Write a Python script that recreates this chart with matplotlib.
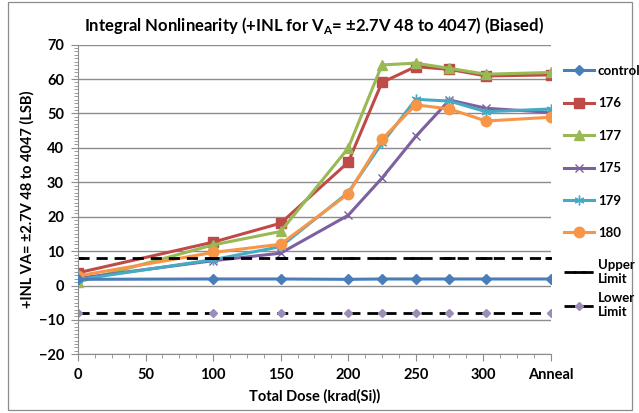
import numpy as np
import matplotlib.pyplot as plt
from matplotlib.patches import Rectangle
from matplotlib.ticker import MultipleLocator

plt.rcParams['font.family'] = ['Lato', 'DejaVu Sans']

# total dose, krad(Si); last point is the anneal
dose = [0, 100, 150, 200, 225, 250, 275, 302, 350]
x_ticks = [0, 50, 100, 150, 200, 250, 300, 350]
x_labels = ['0', '50', '100', '150', '200', '250', '300', 'Anneal']

control = [1.8, 1.9, 1.9, 1.8, 1.9, 1.9, 1.9, 1.9, 1.9]
s176 = [3.7, 12.6, 18.1, 35.8, 59.0, 63.6, 62.8, 60.9, 61.2]
s177 = [1.0, 11.8, 15.7, 39.9, 64.1, 64.6, 63.1, 61.4, 61.9]
s175 = [2.1, 7.2, 9.4, 20.4, 31.2, 43.3, 53.9, 51.5, 50.3]
s179 = [1.7, 7.5, 11.3, 27.0, 41.3, 54.1, 53.6, 50.5, 51.3]
s180 = [2.8, 9.6, 12.0, 26.6, 42.5, 52.5, 51.3, 47.8, 48.9]
upper = [8] * len(dose)
lower = [-8] * len(dose)

fig = plt.figure(figsize=(6.39, 4.13), dpi=100)
ax = fig.add_axes([0.122, 0.142, 0.74, 0.75])

# chart border
fig.patches.append(Rectangle((8/639, 3/413), 624/639, 408/413, transform=fig.transFigure,
                             fill=False, edgecolor='#8c8c8c', linewidth=0.9))

lw = 2.2
series = []
series += ax.plot(dose, control, color='#4A7EBB', marker='D', ms=5, lw=lw, label='control', zorder=5)
series += ax.plot(dose, s176, color='#BE4B48', marker='s', ms=7, lw=lw, label='176')
series += ax.plot(dose, s177, color='#98B954', marker='^', ms=7, lw=lw, label='177')
series += ax.plot(dose, s175, color='#7D60A0', marker='x', ms=6, mew=1, lw=lw, label='175')
series += ax.plot(dose, s179, color='#46AAC5', marker=(6, 2, 0), ms=7, mew=1, lw=lw, label='179')
series += ax.plot(dose, s180, color='#F79646', marker='o', ms=7.5, lw=lw, label='180')
limits = []
limits += ax.plot(dose, upper, color='black', ls=(0, (4, 2.5)), lw=2, marker='_', ms=8, mew=2,
                  label='Upper\nLimit')
limits += ax.plot(dose, lower, color='black', ls=(0, (4, 2.5)), lw=2, marker='D', ms=4.5,
                  mfc='#9B8DB8', mec='#9B8DB8', label='Lower\nLimit')

ax.set_xlim(0, 350)
ax.set_ylim(-20, 70)
ax.set_xticks(x_ticks)
ax.set_xticklabels(x_labels)
ax.xaxis.set_minor_locator(MultipleLocator(12.5))
ax.yaxis.set_major_locator(MultipleLocator(10))
ax.yaxis.set_minor_locator(MultipleLocator(1))
ax.grid(axis='y', which='major', color='#8c8c8c', lw=1)
ax.set_axisbelow(True)
for s in ['top', 'right']:
    ax.spines[s].set_visible(False)
for s in ['left', 'bottom']:
    ax.spines[s].set_color('#8c8c8c')
ax.tick_params(which='both', color='#8c8c8c', direction='out')
ax.tick_params(which='major', length=5, labelsize=10.5, pad=5)
ax.tick_params(which='minor', length=3)
for lab in ax.get_xticklabels() + ax.get_yticklabels():
    lab.set_fontweight('bold')

ax.set_title('Integral Nonlinearity (+INL for V$_\\mathregular{A}$= \u00b12.7V 48 to 4047) (Biased)',
             fontsize=12, fontweight='bold', pad=10)
ax.set_xlabel('Total Dose (krad(Si))', fontsize=10.5, fontweight='bold', labelpad=5)
ax.set_ylabel('+INL VA= \u00b12.7V 48 to 4047 (LSB)', fontsize=10.5, fontweight='bold', labelpad=3)

leg_kw = dict(loc='upper left', frameon=False, prop={'weight': 'bold', 'size': 9.5},
              handlelength=2.3, handletextpad=0.3, borderpad=0, borderaxespad=0)
leg1 = fig.legend(handles=series, bbox_to_anchor=(0.882, 0.843), labelspacing=1.55, **leg_kw)
leg2 = fig.legend(handles=limits, bbox_to_anchor=(0.882, 0.374), labelspacing=0.6, **leg_kw)

fig.savefig('out.png', dpi=100)
